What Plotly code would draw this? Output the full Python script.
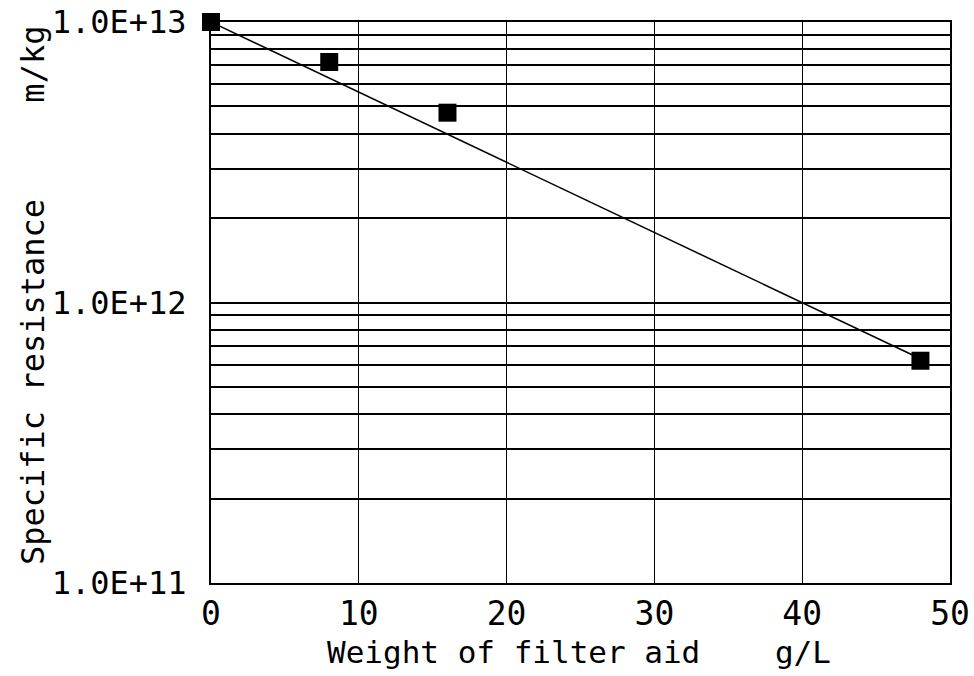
import plotly.graph_objects as go

# Measured data (weight of filter aid g/L vs specific resistance m/kg)
weight = [0, 8, 16, 48]
resistance = [1.0e13, 7.2e12, 4.75e12, 6.2e11]

# Fitted trend line (log-linear), endpoints
fit_x = [0, 48]
fit_y = [1.0e13, 6.3e11]

# Axis ticks
x_ticks = [0, 10, 20, 30, 40, 50]
y_major = [1e11, 1e12, 1e13]
y_major_text = ["1.0E+11", "1.0E+12", "1.0E+13"]

y_tickvals = []
y_ticktext = []
for dec in [1e11, 1e12]:
    for m in range(1, 10):
        v = m * dec
        y_tickvals.append(v)
        y_ticktext.append(y_major_text[y_major.index(v)] if v in y_major else "")
y_tickvals.append(1e13)
y_ticktext.append("1.0E+13")

FONT = "DejaVu Sans Mono"
NB = "\u00a0"
W, H = 974, 676
L, R, T, B = 211, 24, 22, 93

fig = go.Figure()
fig.add_trace(go.Scatter(
    x=fit_x, y=fit_y, mode="lines",
    line=dict(color="black", width=1.5),
    showlegend=False, hoverinfo="skip", cliponaxis=False,
))
fig.add_trace(go.Scatter(
    x=weight, y=resistance, mode="markers",
    marker=dict(symbol="square", size=18, color="black"),
    showlegend=False, cliponaxis=False,
))

pw, ph = W - L - R, H - T - B

def px_to_paper(x, y):
    return (x - L) / pw, (H - B - y) / ph

xt_x, xt_y = px_to_paper(579, 652)
yt_x, yt_y = px_to_paper(33, 296)

fig.update_layout(
    width=W, height=H,
    margin=dict(l=L, r=R, t=T, b=B, autoexpand=False),
    paper_bgcolor="white", plot_bgcolor="white",
    font=dict(family=FONT, color="black"),
    xaxis=dict(
        range=[0, 50], tickvals=x_ticks, ticktext=[str(v) for v in x_ticks],
        showgrid=True, gridcolor="black", gridwidth=1,
        showline=True, linecolor="black", linewidth=2, mirror=True,
        zeroline=False, ticks="", tickfont=dict(size=33, family=FONT),
        ticklabelstandoff=0, automargin=False,
    ),
    yaxis=dict(
        type="log", range=[11, 13], tickvals=y_tickvals, ticktext=y_ticktext,
        showgrid=True, gridcolor="black", gridwidth=2,
        showline=True, linecolor="black", linewidth=2, mirror=True,
        zeroline=False, ticks="", tickfont=dict(size=32, family=FONT),
        ticklabelstandoff=16, automargin=False,
    ),
    annotations=[
        dict(text="Weight" + NB + "of" + NB + "filter" + NB + "aid" + NB * 4 + "g/L",
             xref="paper", yref="paper", x=xt_x, y=xt_y,
             xanchor="center", yanchor="middle", showarrow=False,
             font=dict(size=31, family=FONT)),
        dict(text="Specific" + NB + "resistance" + NB * 5 + "m/kg",
             xref="paper", yref="paper", x=yt_x, y=yt_y, textangle=-90,
             xanchor="center", yanchor="middle", showarrow=False,
             font=dict(size=32, family=FONT)),
    ],
)

fig.write_html("out.html", config={"displayModeBar": False},
               post_script="document.body.style.margin='0';document.body.style.overflow='hidden';")
